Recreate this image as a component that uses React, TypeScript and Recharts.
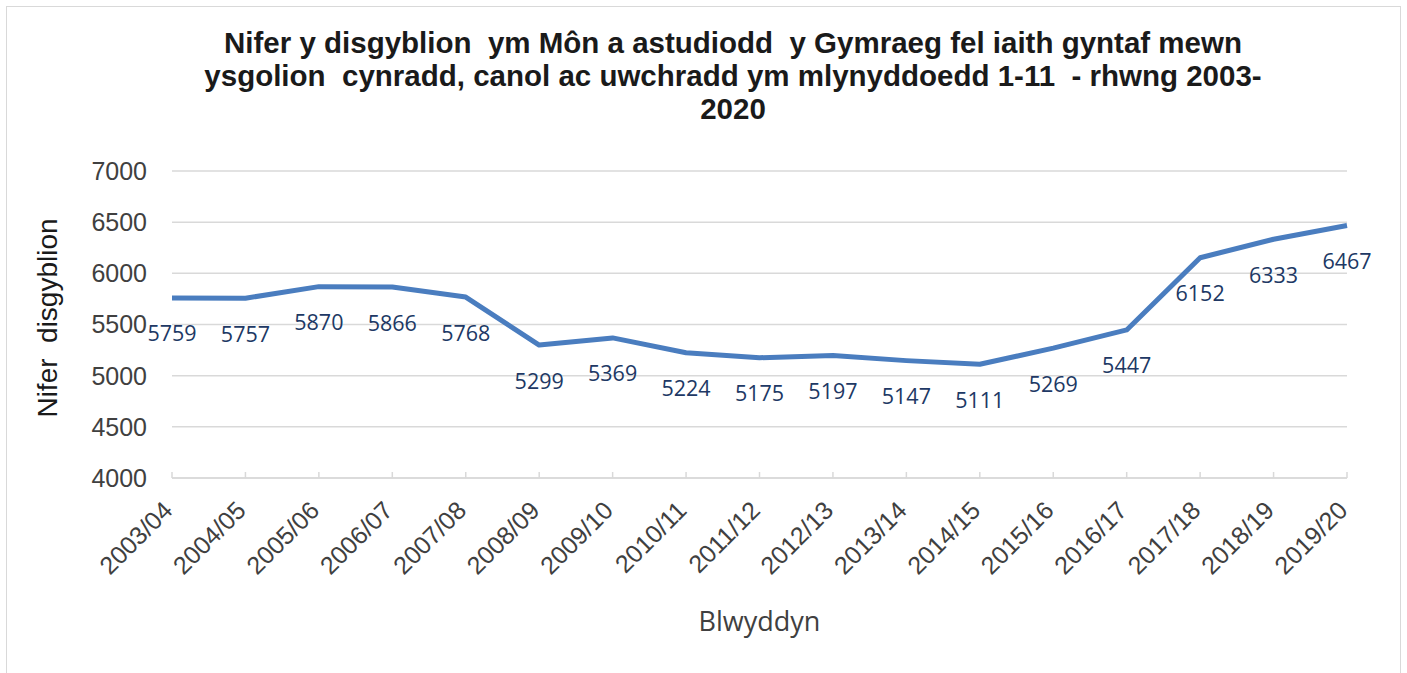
import React from "react";
import {
  LineChart,
  Line,
  XAxis,
  YAxis,
  CartesianGrid,
  LabelList,
  Label,
} from "recharts";

const years = [
  "2003/04", "2004/05", "2005/06", "2006/07", "2007/08", "2008/09",
  "2009/10", "2010/11", "2011/12", "2012/13", "2013/14", "2014/15",
  "2015/16", "2016/17", "2017/18", "2018/19", "2019/20",
];

const pupils = [
  5759, 5757, 5870, 5866, 5768, 5299, 5369, 5224, 5175, 5197, 5147, 5111,
  5269, 5447, 6152, 6333, 6467,
];

const yTicks = [4000, 4500, 5000, 5500, 6000, 6500, 7000];

const titleLines = [
  "Nifer y disgyblion  ym Môn a astudiodd  y Gymraeg fel iaith gyntaf mewn",
  "ysgolion  cynradd, canol ac uwchradd ym mlynyddoedd 1-11  - rhwng 2003-",
  "2020",
];

const data = years.map((year, i) => ({ year, total: pupils[i] }));

const AXIS_FONT = "'Liberation Sans', Arial, sans-serif";
const LABEL_FONT = "'Open Sans', sans-serif";

function YearTick(props: any) {
  const { x, y, payload } = props;
  return (
    <g transform={`translate(${x + 2},${y + 34})`}>
      <text
        x={0}
        y={0}
        textAnchor="end"
        transform="rotate(-45)"
        fontFamily={AXIS_FONT}
        fontSize={25}
        fill="#404040"
      >
        {payload.value}
      </text>
    </g>
  );
}

function ValueLabel(props: any) {
  const { x, y, value } = props;
  return (
    <text
      x={x}
      y={y + 35}
      textAnchor="middle"
      dominantBaseline="central"
      fontFamily={LABEL_FONT}
      fontSize={21.5}
      fill="#203864"
    >
      {value}
    </text>
  );
}

export default function App() {
  return (
    <div
      style={{
        position: "absolute",
        left: 0,
        top: 0,
        width: 1407,
        height: 673,
        background: "#fff",
        overflow: "hidden",
      }}
    >
      <div
        style={{
          position: "absolute",
          left: 6,
          top: 6,
          width: 1393,
          height: 700,
          border: "1px solid #d9d9d9",
        }}
      />
      <div
        style={{
          position: "absolute",
          left: 0,
          top: 26,
          width: 1466,
          textAlign: "center",
          fontFamily: AXIS_FONT,
          fontWeight: "bold",
          fontSize: 29.5,
          lineHeight: "33px",
          color: "#1a1a1a",
          whiteSpace: "pre",
        }}
      >
        {titleLines.map((t) => (
          <div key={t}>{t}</div>
        ))}
      </div>
      <div style={{ position: "absolute", left: 0, top: 0 }}>
        <LineChart
          width={1407}
          height={673}
          data={data}
          margin={{ top: 171, right: 60, bottom: 0, left: 0 }}
        >
          <CartesianGrid vertical={false} stroke="#d9d9d9" strokeWidth={1.5} />
          <XAxis
            dataKey="year"
            height={195}
            interval={0}
            axisLine={{ stroke: "#d9d9d9", strokeWidth: 1.5 }}
            tickLine={{ stroke: "#d9d9d9", strokeWidth: 1.5 }}
            tickSize={-6}
            tickMargin={6}
            tick={<YearTick />}
          >
            <Label
              value="Blwyddyn"
              position="insideBottom"
              offset={42}
              style={{ fontFamily: LABEL_FONT, fontSize: 27, fill: "#404040" }}
            />
          </XAxis>
          <YAxis
            width={172}
            domain={[4000, 7000]}
            ticks={yTicks}
            axisLine={false}
            tickLine={false}
            tickSize={6}
            tickMargin={19}
            tick={{ fontFamily: AXIS_FONT, fontSize: 25, fill: "#404040" }}
          >
            <Label
              content={() => (
                <text
                  x={47}
                  y={318}
                  transform="rotate(-90, 47, 318)"
                  textAnchor="middle"
                  dominantBaseline="central"
                  fontFamily={AXIS_FONT}
                  fontSize={28}
                  fill="#1a1a1a"
                  style={{ whiteSpace: "pre" }}
                >
                  {"Nifer  disgyblion"}
                </text>
              )}
            />
          </YAxis>
          <Line
            type="linear"
            dataKey="total"
            stroke="#4a7dbf"
            strokeWidth={5}
            strokeLinejoin="round"
            dot={false}
            activeDot={false}
            isAnimationActive={false}
          >
            <LabelList dataKey="total" content={<ValueLabel />} />
          </Line>
        </LineChart>
      </div>
    </div>
  );
}
